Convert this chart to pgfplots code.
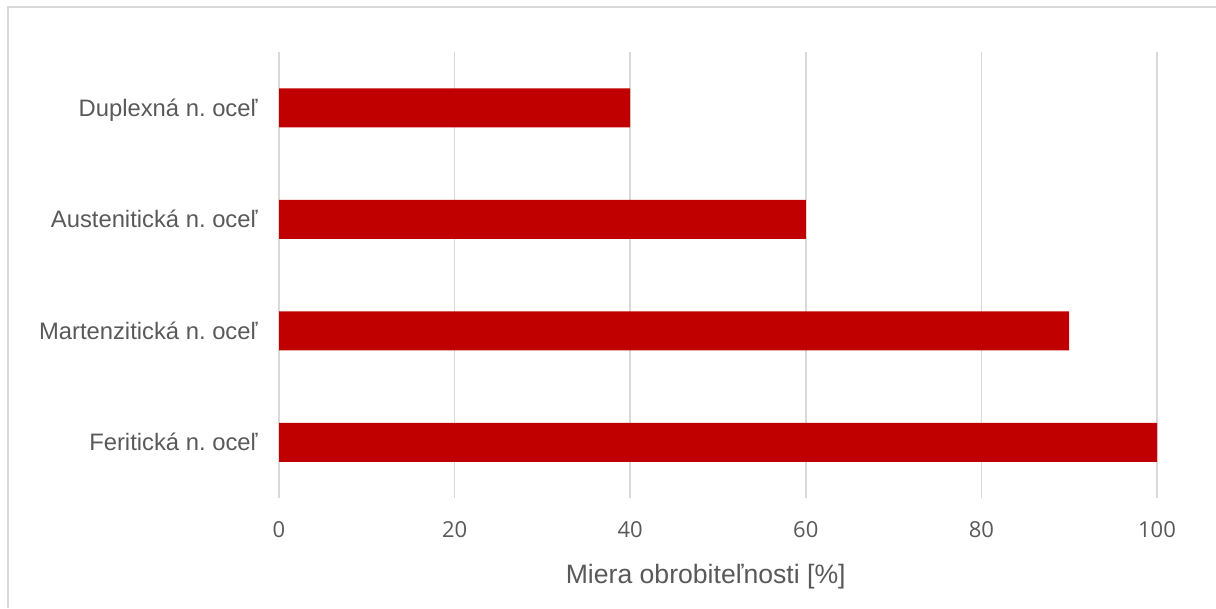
\documentclass[border=0pt]{standalone}
\usepackage{fontspec}
\setmainfont{Liberation Sans}
\newfontfamily\tickfont{Open Sans}
\usepackage{pgfplots}
\pgfplotsset{compat=1.18}
\definecolor{barred}{HTML}{C00000}
\definecolor{txtgray}{HTML}{595959}
\definecolor{gridgray}{HTML}{D9D9D9}
\frenchspacing

\begin{document}
\begin{tikzpicture}[x=1bp,y=1bp]
\useasboundingbox (0,0) rectangle (608,-304);
% chart frame (top and left edges)
\draw[gridgray, line width=0.8bp] (4,-304) -- (4,-3.5) -- (608,-3.5);
\begin{axis}[
  at={(139.5bp,-249bp)}, anchor=south west,
  scale only axis, width=439bp, height=223bp,
  xbar, bar width=19.5bp,
  xmin=0, xmax=100, ymin=-0.5, ymax=3.5,
  xtick={0,20,40,60,80,100},
  xticklabels={0,20,40,60,80,100},
  ytick={0,1,2,3},
  yticklabels={Feritická n. oceľ,Martenzitická n. oceľ,Austenitická n. oceľ,Duplexná n. oceľ},
  axis line style={draw=none},
  tick style={draw=none},
  major tick length=0pt,
  xmajorgrids,
  grid style={gridgray, line width=0.85bp},
  xticklabel style={font=\tickfont\fontsize{11bp}{13bp}\selectfont, text=txtgray,
    anchor=base, inner sep=0pt, yshift=-19.7bp},
  yticklabel style={font=\fontsize{11.9bp}{14bp}\selectfont, text=txtgray,
    anchor=base east, inner sep=0pt, xshift=-10.5bp, yshift=-4.2bp},
  xlabel={Miera obrobiteľnosti [\%]},
  xlabel style={at={(axis description cs:0.486,0)}, anchor=base,
    font=\fontsize{13.3bp}{15bp}\selectfont, text=txtgray, inner sep=0pt, yshift=-42.7bp},
]
\addplot[fill=barred, draw=none] coordinates {
  (100,0) (90,1) (60,2) (40,3)
};
\end{axis}
\end{tikzpicture}
\end{document}
